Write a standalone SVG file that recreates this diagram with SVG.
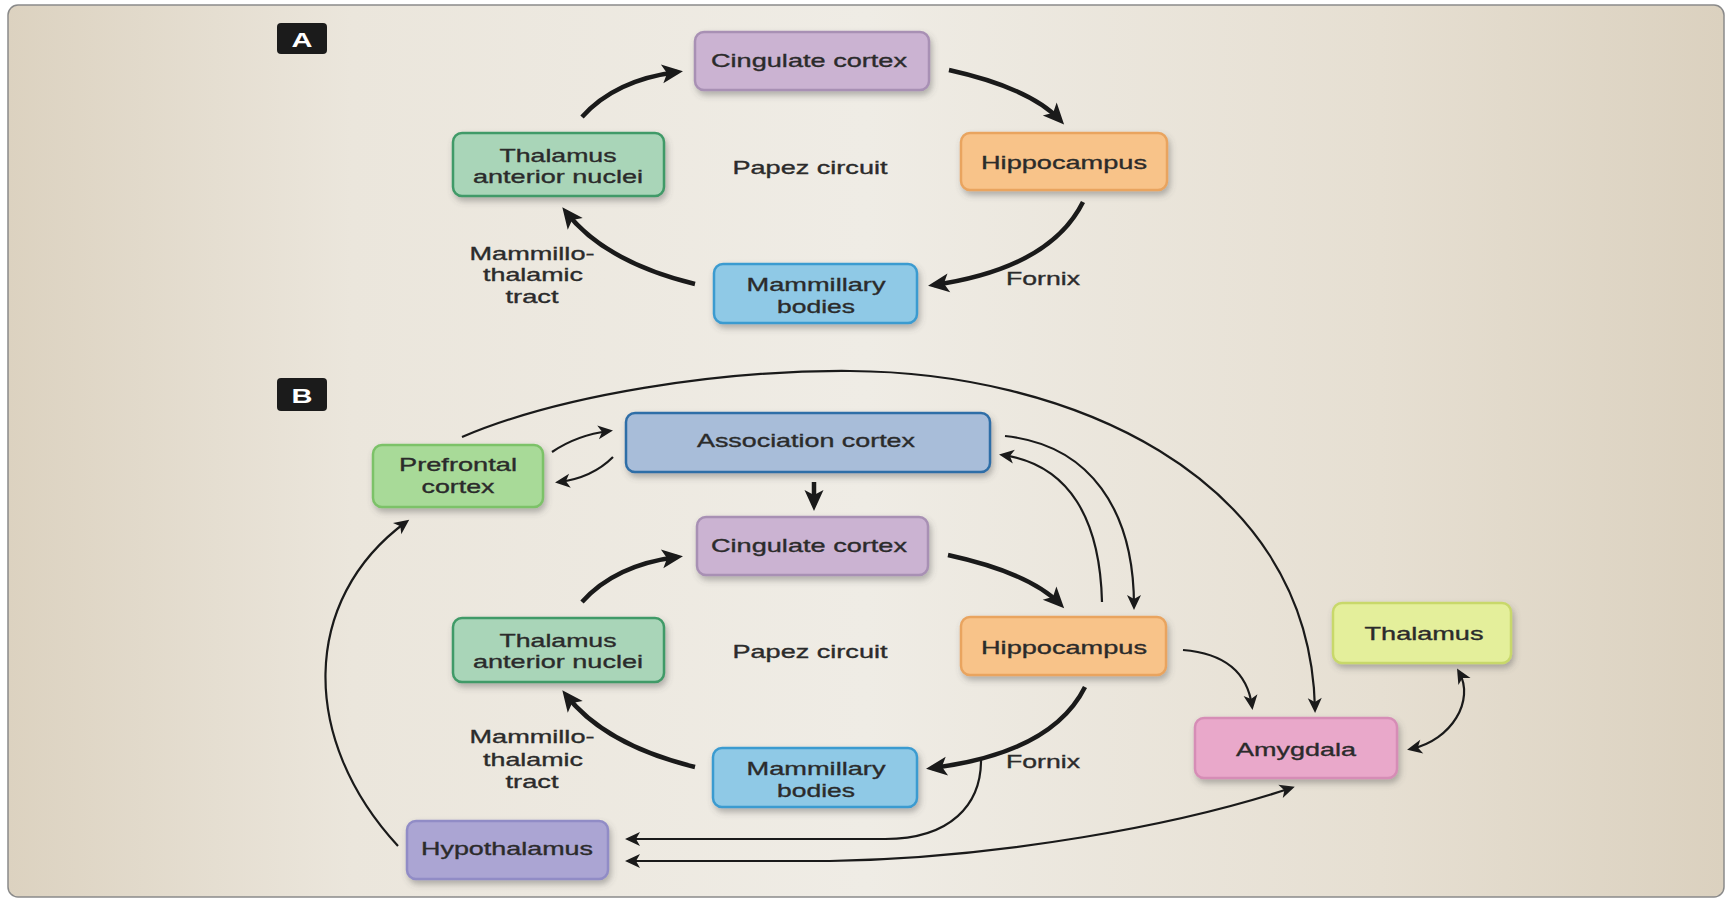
<svg xmlns="http://www.w3.org/2000/svg" width="1733" height="900" viewBox="0 0 1733 900">
<defs>
<linearGradient id="bg" x1="0" y1="0" x2="1" y2="0">
<stop offset="0" stop-color="#dcd2c0"/>
<stop offset="0.2" stop-color="#ebe6dc"/>
<stop offset="0.5" stop-color="#efece5"/>
<stop offset="0.8" stop-color="#e6dfd2"/>
<stop offset="1" stop-color="#dbd1bf"/>
</linearGradient>
<filter id="sh" x="-10%" y="-20%" width="125%" height="150%">
<feDropShadow dx="2" dy="4" stdDeviation="3" flood-color="#555" flood-opacity="0.4"/>
</filter>
<marker id="ak" viewBox="-20 -12 30 24" markerWidth="30" markerHeight="24" refX="0" refY="0" markerUnits="userSpaceOnUse" orient="auto">
<path d="M6,0 L-15,-9.5 L-10,0 L-15,9.5 Z" fill="#1a1a1a"/>
</marker>
<marker id="at" viewBox="-16 -10 24 20" markerWidth="24" markerHeight="20" refX="0" refY="0" markerUnits="userSpaceOnUse" orient="auto-start-reverse">
<path d="M4,0 L-11,-7 L-7,0 L-11,7 Z" fill="#1a1a1a"/>
</marker>
</defs>
<style>
.n rect{stroke-width:2.5;filter:url(#sh)}
.n text,.lbl{font-family:"Liberation Sans",Arial,sans-serif;font-size:19px;fill:#2b2b2b;stroke:#2b2b2b;stroke-width:0.35;text-anchor:middle}
.tag rect{fill:#1b1b1b}
.tag text{font-family:"Liberation Sans",Arial,sans-serif;font-size:21px;font-weight:bold;fill:#fff;text-anchor:middle}
.thk{fill:none;stroke:#1a1a1a;stroke-width:4.5;marker-end:url(#ak)}
.thn{fill:none;stroke:#1a1a1a;stroke-width:2.2;marker-end:url(#at)}
.cing{fill:#cbb3d2;stroke:#a890b4}
.hip{fill:#f8c389;stroke:#e9a45f}
.tan{fill:#a9d5b8;stroke:#3f9a67}
.mam{fill:#8fc9e6;stroke:#3b9bd0}
.pfc{fill:#a8da98;stroke:#7cc268}
.asc{fill:#a8bdd9;stroke:#2f6ea7}
.hyp{fill:#aba5d3;stroke:#918cc6}
.thr{fill:#e4ef9b;stroke:#c8d86b}
.amy{fill:#e9a8ca;stroke:#d68db6}
</style>
<rect x="8" y="5" width="1716" height="892" rx="10" fill="url(#bg)" stroke="#8a8a8a" stroke-width="1.5"/>

<g id="tagA" class="tag"><rect x="277" y="23" width="50" height="31" rx="4"/><text x="302" y="47" textLength="21" lengthAdjust="spacingAndGlyphs">A</text></g>
<g id="tagB" class="tag"><rect x="277" y="378" width="50" height="33" rx="4"/><text x="302" y="403" textLength="21" lengthAdjust="spacingAndGlyphs">B</text></g>

<g id="connectors">
<path class="thk" d="M582,117 Q615,80 677,72"/>
<path class="thk" d="M949,70 Q1030,88 1060,120"/>
<path class="thk" d="M1083,202 Q1050,268 934,285"/>
<path class="thk" d="M695,284 Q605,262 566,212"/>

<path class="thk" d="M582,602 Q615,565 677,557"/>
<path class="thk" d="M948,555 Q1030,573 1060,604"/>
<path class="thk" d="M1085,687 Q1052,753 932,768"/>
<path class="thk" d="M695,767 Q605,745 566,695"/>
<path class="thk" d="M814,482 L814,505"/>

<path class="thn" d="M552,452 Q577,435 609,431"/>
<path class="thn" d="M613,457 Q592,478 559,482"/>
<path class="thn" d="M462,437 C560,395 720,370 850,371 C1060,372 1310,470 1315,709"/>
<path class="thn" d="M1005,436 C1090,445 1134,510 1134,606"/>
<path class="thn" d="M1102,602 C1100,520 1070,465 1003,455"/>
<path class="thn" d="M1183,650 Q1245,655 1252,706"/>
<path class="thn" d="M1459,672 C1475,700 1452,740 1411,749" marker-start="url(#at)"/>
<path class="thn" d="M981,758 C982,805 950,839 885,839 L629,839"/>
<path class="thn" d="M629,861 L830,861 C1000,858 1180,825 1291,788" marker-start="url(#at)"/>
<path class="thn" d="M398,846 C300,740 300,600 406,522"/>
</g>

<g id="cingA" class="n"><rect class="cing" x="695" y="32" width="234" height="58" rx="9"/><text x="809" y="67" textLength="196" lengthAdjust="spacingAndGlyphs">Cingulate cortex</text></g>
<g id="tanA" class="n"><rect class="tan" x="453" y="133" width="211" height="63" rx="9"/><text x="558" y="162" textLength="117" lengthAdjust="spacingAndGlyphs">Thalamus</text><text x="558" y="183" textLength="170" lengthAdjust="spacingAndGlyphs">anterior nuclei</text></g>
<g id="hipA" class="n"><rect class="hip" x="961" y="133" width="206" height="57" rx="9"/><text x="1064" y="169" textLength="166" lengthAdjust="spacingAndGlyphs">Hippocampus</text></g>
<g id="mamA" class="n"><rect class="mam" x="714" y="264" width="203" height="59" rx="9"/><text x="816" y="291" textLength="139" lengthAdjust="spacingAndGlyphs">Mammillary</text><text x="816" y="313" textLength="78" lengthAdjust="spacingAndGlyphs">bodies</text></g>

<g id="labelsA">
<text class="lbl" x="810" y="174" textLength="155" lengthAdjust="spacingAndGlyphs">Papez circuit</text>
<text class="lbl" x="532" y="260" textLength="125" lengthAdjust="spacingAndGlyphs">Mammillo-</text>
<text class="lbl" x="533" y="281" textLength="100" lengthAdjust="spacingAndGlyphs">thalamic</text>
<text class="lbl" x="532" y="303" textLength="53" lengthAdjust="spacingAndGlyphs">tract</text>
<text class="lbl" x="1043" y="285" textLength="74" lengthAdjust="spacingAndGlyphs">Fornix</text>
</g>

<g id="pfc" class="n"><rect class="pfc" x="373" y="445" width="170" height="62" rx="9"/><text x="458" y="471" textLength="118" lengthAdjust="spacingAndGlyphs">Prefrontal</text><text x="458" y="493" textLength="73" lengthAdjust="spacingAndGlyphs">cortex</text></g>
<g id="asc" class="n"><rect class="asc" x="626" y="413" width="364" height="59" rx="9"/><text x="806" y="447" textLength="218" lengthAdjust="spacingAndGlyphs">Association cortex</text></g>
<g id="cingB" class="n"><rect class="cing" x="697" y="517" width="231" height="58" rx="9"/><text x="809" y="552" textLength="196" lengthAdjust="spacingAndGlyphs">Cingulate cortex</text></g>
<g id="tanB" class="n"><rect class="tan" x="453" y="618" width="211" height="64" rx="9"/><text x="558" y="647" textLength="117" lengthAdjust="spacingAndGlyphs">Thalamus</text><text x="558" y="668" textLength="170" lengthAdjust="spacingAndGlyphs">anterior nuclei</text></g>
<g id="hipB" class="n"><rect class="hip" x="961" y="617" width="205" height="58" rx="9"/><text x="1064" y="654" textLength="166" lengthAdjust="spacingAndGlyphs">Hippocampus</text></g>
<g id="mamB" class="n"><rect class="mam" x="713" y="748" width="204" height="59" rx="9"/><text x="816" y="775" textLength="139" lengthAdjust="spacingAndGlyphs">Mammillary</text><text x="816" y="797" textLength="78" lengthAdjust="spacingAndGlyphs">bodies</text></g>
<g id="hyp" class="n"><rect class="hyp" x="407" y="821" width="201" height="58" rx="9"/><text x="507" y="855" textLength="172" lengthAdjust="spacingAndGlyphs">Hypothalamus</text></g>
<g id="thr" class="n"><rect class="thr" x="1333" y="603" width="178" height="60" rx="9"/><text x="1424" y="640" textLength="119" lengthAdjust="spacingAndGlyphs">Thalamus</text></g>
<g id="amy" class="n"><rect class="amy" x="1195" y="718" width="202" height="60" rx="9"/><text x="1296" y="756" textLength="120" lengthAdjust="spacingAndGlyphs">Amygdala</text></g>

<g id="labelsB">
<text class="lbl" x="810" y="658" textLength="155" lengthAdjust="spacingAndGlyphs">Papez circuit</text>
<text class="lbl" x="532" y="743" textLength="125" lengthAdjust="spacingAndGlyphs">Mammillo-</text>
<text class="lbl" x="533" y="766" textLength="100" lengthAdjust="spacingAndGlyphs">thalamic</text>
<text class="lbl" x="532" y="788" textLength="53" lengthAdjust="spacingAndGlyphs">tract</text>
<text class="lbl" x="1043" y="768" textLength="74" lengthAdjust="spacingAndGlyphs">Fornix</text>
</g>
</svg>
